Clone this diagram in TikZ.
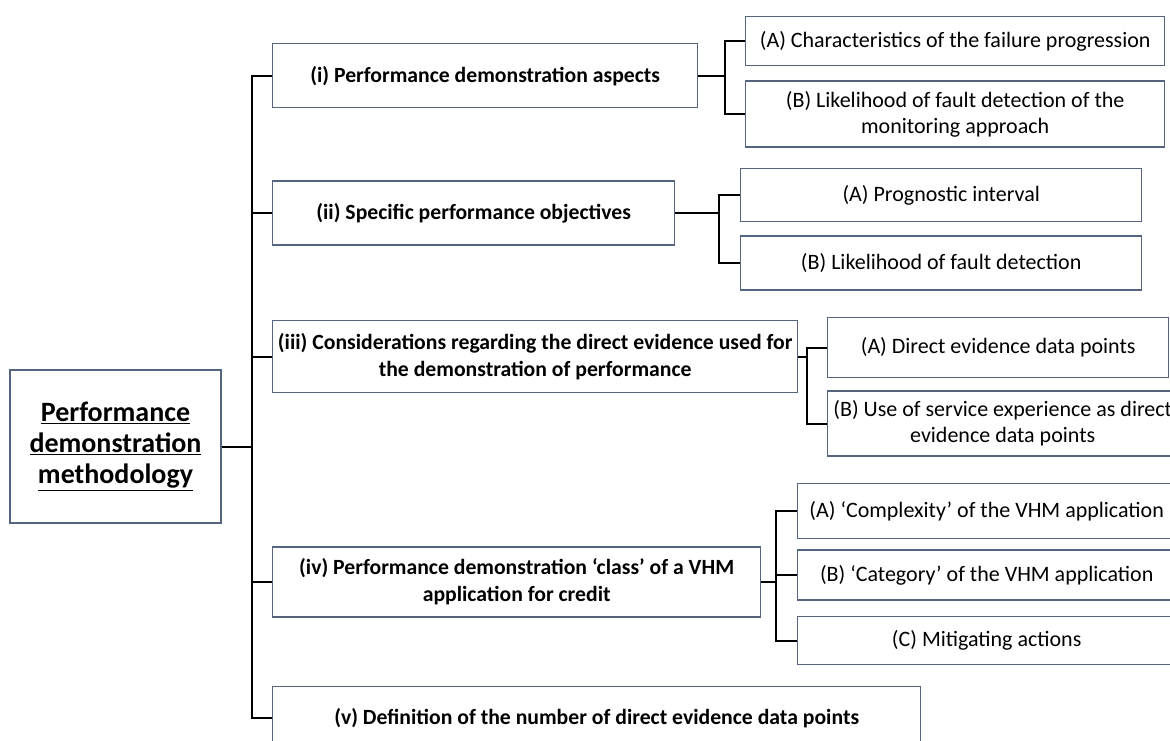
\documentclass[tikz,border=0pt]{standalone}
\usepackage{fontspec}
\setmainfont{Carlito}
\usepackage{xcolor}
\usepackage{tikz}
\usetikzlibrary{positioning}
\definecolor{BoxEdge}{HTML}{56657F}

\begin{document}
\begin{tikzpicture}[
    x=1pt, y=-1pt,
    font=\fontsize{22}{26}\selectfont,
    rootbox/.style={rectangle, draw=BoxEdge, line width=1.4pt, fill=white, align=center, inner sep=2pt, minimum width=211pt, minimum height=153pt, font=\fontsize{28}{31}\selectfont\bfseries},
    mainbox/.style={rectangle, draw=BoxEdge, line width=1.4pt, fill=white, align=center, inner sep=2pt, font=\fontsize{21.7}{27}\selectfont\bfseries},
    subbox/.style={rectangle, draw=BoxEdge, line width=1.4pt, fill=white, align=center, inner sep=2pt},
    link/.style={draw=black, line width=2pt}
]
\useasboundingbox (0,0) rectangle (1170,740);

\node[rootbox] (method) at (115.5,446.5) {\underline{Performance}\\\underline{demonstration}\\\underline{methodology}};

\node[mainbox, minimum width=425pt, minimum height=64pt, anchor=north west] (aspects) at (272,43) {(i) Performance demonstration aspects};
\node[mainbox, minimum width=402pt, minimum height=64pt, below=72pt of aspects.south west, anchor=north west] (objectives) {(ii) Specific performance objectives};
\node[mainbox, minimum width=525pt, minimum height=72pt, below=74pt of objectives.south west, anchor=north west] (evidence) {(iii) Considerations regarding the direct evidence used for\\the demonstration of performance};
\node[mainbox, minimum width=488pt, minimum height=70pt, below=153pt of evidence.south west, anchor=north west] (class) {(iv) Performance demonstration ‘class’ of a VHM\\application for credit};
\node[mainbox, minimum width=648pt, minimum height=64pt, below=68pt of class.south west, anchor=north west] (points) {(v) Definition of the number of direct evidence data points};

\node[subbox, minimum width=419pt, minimum height=49pt, anchor=north west] (progress) at (745,16) {(A) Characteristics of the failure progression};
\node[subbox, minimum width=419pt, minimum height=66pt, below=14pt of progress] (detect) {(B) Likelihood of fault detection of the\\monitoring approach};

\node[subbox, minimum width=401pt, minimum height=53pt, anchor=north west] (interval) at (740,168) {(A) Prognostic interval};
\node[subbox, minimum width=401pt, minimum height=54pt, below=13pt of interval] (likely) {(B) Likelihood of fault detection};

\node[subbox, minimum width=341pt, minimum height=60pt, anchor=north west] (datapts) at (827,317) {(A) Direct evidence data points};
\node[subbox, minimum width=350pt, minimum height=65pt, below=12pt of datapts.south west, anchor=north west] (service) {(B) Use of service experience as direct\\evidence data points};

\node[subbox, minimum width=378pt, minimum height=55pt, anchor=north west] (complex) at (797,483) {(A) ‘Complexity’ of the VHM application};
\node[subbox, minimum width=378pt, minimum height=50pt, below=10pt of complex] (category) {(B) ‘Category’ of the VHM application};
\node[subbox, minimum width=378pt, minimum height=48pt, below=15pt of category] (mitig) {(C) Mitigating actions};

\draw[link] (method.east) -- ++(30pt,0) |- (aspects.west);
\draw[link] (method.east) -- ++(30pt,0) |- (objectives.west);
\draw[link] (method.east) -- ++(30pt,0) |- (evidence.west);
\draw[link] (method.east) -- ++(30pt,0) |- (class.west);
\draw[link] (method.east) -- ++(30pt,0) |- (points.west);

\draw[link] (aspects.east) -- ++(27pt,0) |- (progress.west);
\draw[link] (aspects.east) -- ++(27pt,0) |- (detect.west);
\draw[link] (objectives.east) -- ++(44pt,0) |- (interval.west);
\draw[link] (objectives.east) -- ++(44pt,0) |- (likely.west);
\draw[link] (evidence.east) -- ++(9pt,0) |- (datapts.west);
\draw[link] (evidence.east) -- ++(9pt,0) |- (service.west);
\draw[link] (class.east) -- ++(15pt,0) |- (complex.west);
\draw[link] (class.east) -- ++(15pt,0) |- (category.west);
\draw[link] (class.east) -- ++(15pt,0) |- (mitig.west);
\end{tikzpicture}
\end{document}
